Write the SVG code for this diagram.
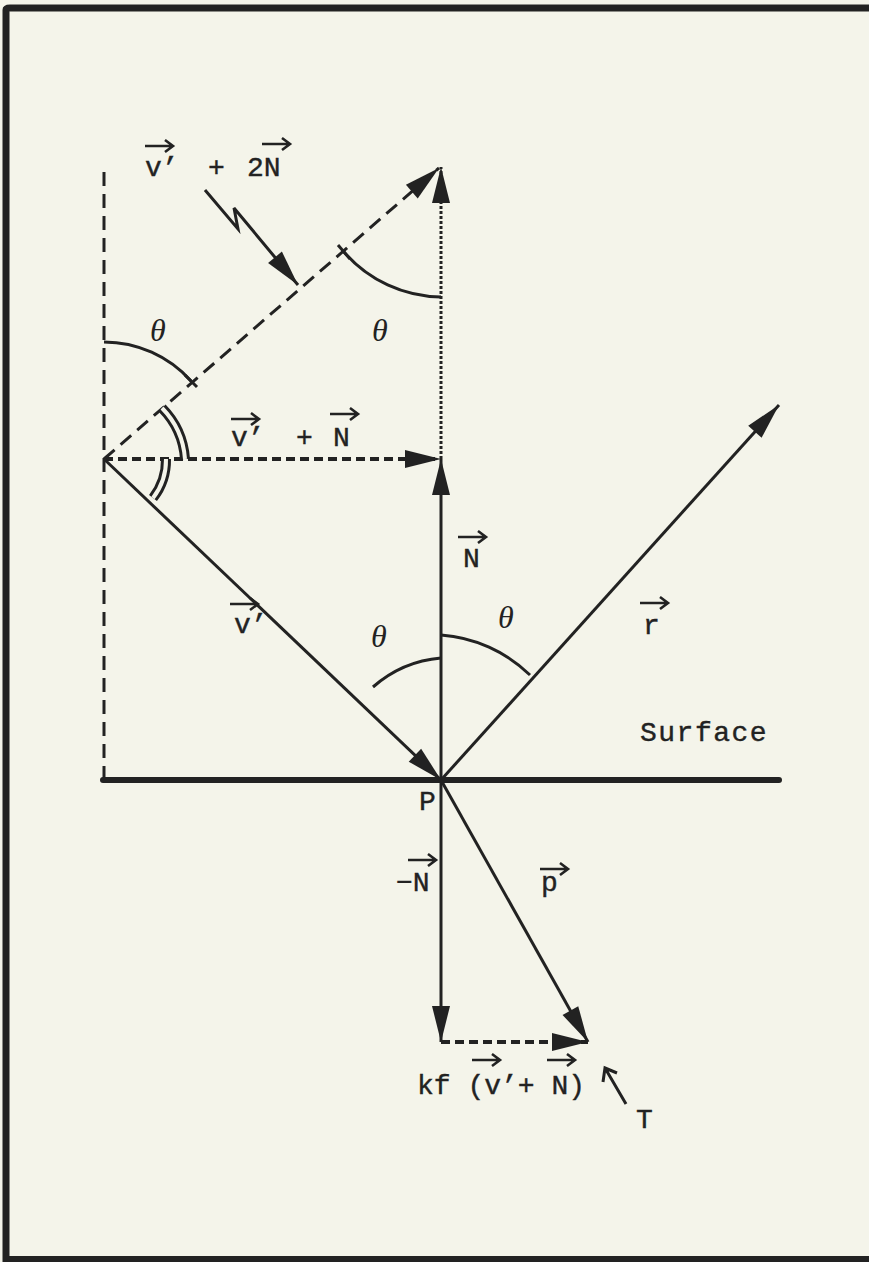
<svg xmlns="http://www.w3.org/2000/svg" width="869" height="1262" viewBox="0 0 869 1262">
<style>
.ln{stroke:#222;fill:none;stroke-width:3}
.thick{stroke:#222;fill:none;stroke-width:6;stroke-linecap:round}
.dash1{stroke:#222;fill:none;stroke-width:3;stroke-dasharray:14 8}
.dash2{stroke:#222;fill:none;stroke-width:4;stroke-dasharray:9 5}
.dot{stroke:#222;fill:none;stroke-width:3;stroke-dasharray:3 2}
.t{font-family:"Liberation Mono","DejaVu Sans Mono",monospace;font-size:28px;fill:#222;stroke:#222;stroke-width:0.4}
.th{font-family:"Liberation Serif","DejaVu Serif",serif;font-style:italic;font-size:32px;fill:#222}
.vec{stroke:#222;fill:none;stroke-width:2.6}
.dbl{stroke:#222;fill:none;stroke-width:10}
.dblw{stroke:#f4f4ea;fill:none;stroke-width:4}
</style>
<defs>
<marker id="ah" markerUnits="userSpaceOnUse" markerWidth="40" markerHeight="22" viewBox="-38 -11 40 22" refX="0" refY="0" orient="auto">
<path d="M0,0 L-36,-9 L-36,9 Z" fill="#222"/>
</marker>
<path id="va" d="M0,0 H28 M20,-6 L28,0 L20,6" class="vec"/>
</defs>
<rect width="869" height="1262" fill="#f4f4ea"/>
<g id="frame">
<path d="M6,1262 V10 Q6,8 10,8 H869" class="ln" style="stroke-width:7"/>
<path d="M6,1259 H869" class="ln" style="stroke-width:6"/>
</g>
<g id="connectors">
<line x1="104" y1="172" x2="104" y2="780" class="dash1"/>
<line x1="103" y1="780" x2="779" y2="780" class="thick"/>
<line x1="104" y1="459" x2="441" y2="459" class="dash2" marker-end="url(#ah)"/>
<line x1="104" y1="459" x2="439" y2="168" class="dash1" marker-end="url(#ah)"/>
<line x1="441" y1="459" x2="441" y2="167" class="dot" marker-end="url(#ah)"/>
<line x1="441" y1="780" x2="441" y2="459" class="ln" marker-end="url(#ah)"/>
<line x1="104" y1="459" x2="441" y2="780" class="ln" marker-end="url(#ah)"/>
<line x1="441" y1="780" x2="779" y2="405" class="ln" marker-end="url(#ah)"/>
<line x1="441" y1="780" x2="441" y2="1042" class="ln" marker-end="url(#ah)"/>
<line x1="441" y1="780" x2="588" y2="1042" class="ln" marker-end="url(#ah)"/>
<line x1="441" y1="1042" x2="588" y2="1042" class="dash2" marker-end="url(#ah)"/>
<polyline points="205,190 238,229 234,208 298,285" class="ln" marker-end="url(#ah)"/>
<path d="M626,1104 L605,1068 M603,1082 L605,1068 L617,1073" class="ln"/>
</g>
<g id="angles">
<path d="M344,252 A130,130 0 0 0 441,297" class="ln"/>
<line x1="338" y1="245" x2="350" y2="259" class="ln"/>
<path d="M104,342 A117,117 0 0 1 191,381" class="ln"/>
<line x1="185" y1="387" x2="197" y2="375" class="ln" transform="rotate(90 191 381)"/>
<path d="M162,408 A81,81 0 0 1 185,459" class="dbl"/>
<path d="M162,408 A81,81 0 0 1 185,459" class="dblw"/>
<path d="M166,459 A62,62 0 0 1 153,498" class="dbl"/>
<path d="M166,459 A62,62 0 0 1 153,498" class="dblw"/>
<path d="M373,687 A118,118 0 0 1 441,658" class="ln"/>
<path d="M441,635 A142,142 0 0 1 530,675" class="ln"/>
</g>
<g id="labels">
<text x="145" y="176" class="t">v’</text>
<text x="208" y="176" class="t">+</text>
<text x="247" y="176" class="t">2N</text>
<use href="#va" x="145" y="146"/>
<use href="#va" x="262" y="144"/>
<text x="231" y="446" class="t">v’</text>
<text x="296" y="446" class="t">+</text>
<text x="333" y="446" class="t">N</text>
<use href="#va" x="231" y="419"/>
<use href="#va" x="330" y="414"/>
<text x="463" y="567" class="t">N</text>
<use href="#va" x="458" y="537"/>
<text x="234" y="633" class="t">v’</text>
<use href="#va" x="230" y="604"/>
<text x="643" y="634" class="t">r</text>
<use href="#va" x="640" y="603"/>
<text x="640" y="741" class="t" style="letter-spacing:1.5px">Surface</text>
<text x="419" y="810" class="t">P</text>
<text x="396" y="891" class="t">−N</text>
<use href="#va" x="408" y="860"/>
<text x="541" y="891" class="t">p</text>
<use href="#va" x="540" y="869"/>
<text x="417" y="1094" class="t">kf (v’+ N)</text>
<use href="#va" x="472" y="1060"/>
<use href="#va" x="547" y="1060"/>
<text x="636" y="1128" class="t">T</text>
<text x="150" y="341" class="th">θ</text>
<text x="372" y="341" class="th">θ</text>
<text x="371" y="647" class="th">θ</text>
<text x="498" y="628" class="th">θ</text>
</g>
</svg>
